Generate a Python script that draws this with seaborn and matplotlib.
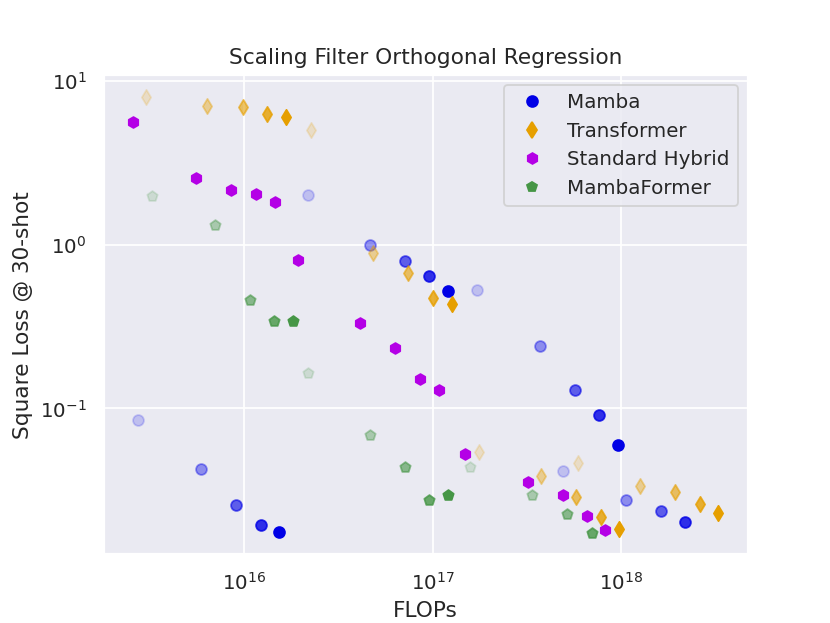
import matplotlib
matplotlib.use("Agg")
import matplotlib.pyplot as plt
from matplotlib.lines import Line2D
import seaborn as sns
import pandas as pd

# ---------------- data ----------------
series_names = ["Mamba", "Transformer", "Standard Hybrid", "MambaFormer"]

mamba_flops = [2.75e15, 5.94e15, 9.1e15, 1.235e16, 1.54e16,
               2.19e16, 4.67e16, 7.16e16, 9.59e16, 1.21e17,
               1.72e17, 3.72e17, 5.70e17, 7.64e17, 9.63e17,
               4.92e17, 1.062e18, 1.627e18, 2.18e18]
mamba_loss = [0.0854, 0.0428, 0.0258, 0.01946, 0.01764,
              2.03, 1.004, 0.802, 0.649, 0.5255,
              0.533, 0.242, 0.130, 0.0917, 0.0601,
              0.0417, 0.0277, 0.0237, 0.0203]
mamba_rank = [0, 1, 2, 3, 4,
              0, 1, 2, 3, 4,
              0, 1, 2, 3, 4,
              0, 1, 2, 3]

transformer_flops = [3.04e15, 6.39e15, 9.9e15, 1.33e16, 1.676e16,
                     2.27e16, 4.84e16, 7.42e16, 1.007e17, 1.27e17,
                     1.766e17, 3.76e17, 5.77e17, 7.83e17, 9.75e17,
                     5.91e17, 1.259e18, 1.93e18, 2.62e18, 3.26e18]
transformer_loss = [8.07, 7.11, 6.92, 6.35, 6.08,
                    5.07, 0.897, 0.677, 0.476, 0.4375,
                    0.0544, 0.0388, 0.0286, 0.0218, 0.0184,
                    0.0466, 0.0337, 0.0310, 0.0262, 0.0231]
transformer_rank = [0, 1, 2, 3, 4,
                    0, 1, 2, 3, 4,
                    0, 1, 2, 3, 4,
                    0, 1, 2, 3, 4]

hybrid_flops = [2.59e15, 5.59e15, 8.57e15, 1.162e16, 1.465e16,
                1.94e16, 4.13e16, 6.34e16, 8.59e16, 1.084e17,
                1.489e17, 3.21e17, 4.92e17, 6.59e17, 8.22e17]
hybrid_loss = [5.60, 2.58, 2.18, 2.06, 1.84,
               0.813, 0.335, 0.2355, 0.152, 0.130,
               0.0529, 0.0356, 0.0297, 0.0221, 0.01815]
hybrid_rank = [4] * 15

mambaformer_flops = [3.27e15, 7.05e15, 1.08e16, 1.447e16, 1.825e16,
                     2.19e16, 4.67e16, 7.16e16, 9.59e16, 1.21e17,
                     1.582e17, 3.37e17, 5.17e17, 7.01e17]
mambaformer_loss = [2.00, 1.331, 0.463, 0.344, 0.344,
                    0.1656, 0.0691, 0.0440, 0.0277, 0.0297,
                    0.0440, 0.0297, 0.0227, 0.0174]
mambaformer_rank = [0, 1, 2, 3, 4,
                    0, 1, 2, 3, 4,
                    0, 1, 2, 3]

# ---------------- styles ----------------
colors = {"Mamba": "#0000e6", "Transformer": "#e69f00",
          "Standard Hybrid": "#b400e6", "MambaFormer": "#469646"}
markers = {"Mamba": "o", "Transformer": "d",
           "Standard Hybrid": "h", "MambaFormer": "p"}
alpha_by_rank = {0: 0.18, 1: 0.4, 2: 0.6, 3: 0.8, 4: 1.0}

frames = []
for name, fl, lo, rk in [
    ("Mamba", mamba_flops, mamba_loss, mamba_rank),
    ("Transformer", transformer_flops, transformer_loss, transformer_rank),
    ("Standard Hybrid", hybrid_flops, hybrid_loss, hybrid_rank),
    ("MambaFormer", mambaformer_flops, mambaformer_loss, mambaformer_rank),
]:
    frames.append(pd.DataFrame({"FLOPs": fl, "loss": lo, "model": name, "rank": rk}))
df = pd.concat(frames, ignore_index=True)

sns.set_theme(style="darkgrid")
plt.rcParams["font.family"] = ["DejaVu Sans"]

fig, ax = plt.subplots(figsize=(6.4, 4.8), dpi=129.8)
ax.set_xscale("log")
ax.set_yscale("log")

for name in series_names:
    for rk, a in alpha_by_rank.items():
        sub = df[(df["model"] == name) & (df["rank"] == rk)]
        if sub.empty:
            continue
        sns.scatterplot(data=sub, x="FLOPs", y="loss", ax=ax,
                        color=colors[name], marker=markers[name],
                        s=36, alpha=a, edgecolor="face", linewidth=1.0,
                        legend=False)

handles = [Line2D([], [], linestyle="", marker=markers[n], color=colors[n],
                  markersize=6, markeredgewidth=1.0, label=n)
           for n in series_names]
ax.legend(handles=handles, loc="upper right")

ax.set_title("Scaling Filter Orthogonal Regression")
ax.set_xlabel("FLOPs")
ax.set_ylabel("Square Loss @ 30-shot")

fig.savefig("out.png", dpi=129.8)
